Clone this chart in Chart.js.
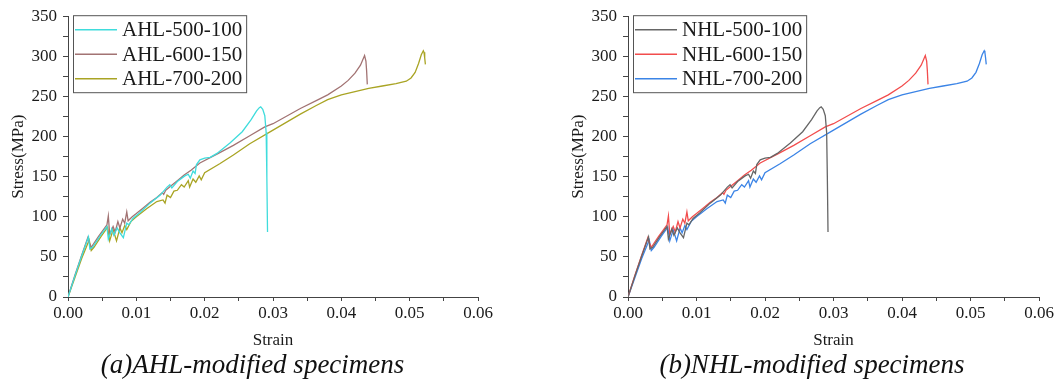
<!DOCTYPE html>
<html><head><meta charset="utf-8">
<script src="https://cdn.jsdelivr.net/npm/chart.js@4"></script>
<style>
html,body{margin:0;padding:0;background:#fff;}
#wrap{position:relative;width:1057px;height:385px;overflow:hidden;background:#fff;}
canvas{position:absolute;top:0;}
.cap{position:absolute;top:351px;font:italic 27px "Liberation Serif","Times New Roman",serif;text-align:center;line-height:27px;color:#111;white-space:nowrap;}
</style></head><body>
<div id="wrap">
<canvas id="c1" width="530" height="360" style="left:0;width:530px;height:360px"></canvas>
<canvas id="c2" width="497" height="360" style="left:560px;width:497px;height:360px"></canvas>
<div class="cap" style="left:0;width:505px">(a)AHL-modified specimens</div>
<div class="cap" style="left:560px;width:504px">(b)NHL-modified specimens</div>
</div>
<script>
// ---- data ----
const s500Strain = [0,0.0010,0.0020,0.0030,0.0032,0.0036,0.0046,0.0057,0.0059,0.0064,0.0067,0.0072,0.0076,0.0081,0.0086,0.0089,0.0095,0.0105,0.0120,0.0135,0.0145,0.0149,0.0152,0.0160,0.0171,0.0176,0.0179,0.0183,0.0186,0.0188,0.0193,0.0200,0.0208,0.0218,0.0237,0.0255,0.0268,0.0276,0.0280,0.0282,0.0285,0.0288,0.0290,0.0291,0.0292];
const s500Stress = [0,26,51,75,60,62,75,88,72,85,77,86,80,74,92,90,98,105,117,127,137,140,136,144,151,153,148,157,154,165,171,173,174,179,192,206,221,232,236,237,234,226,205,150,81];

const s600Strain = [0,0.0010,0.0020,0.0029,0.0031,0.0034,0.0045,0.0057,0.0059,0.0061,0.0066,0.0069,0.0073,0.0076,0.0080,0.0083,0.0086,0.0088,0.0094,0.0100,0.0110,0.0120,0.0130,0.0138,0.0140,0.0143,0.0150,0.0160,0.0170,0.0180,0.0193,0.0218,0.0242,0.0266,0.0288,0.0300,0.0340,0.0364,0.0380,0.0400,0.0410,0.0420,0.0428,0.0434,0.0436,0.0437,0.0438];
const s600Stress = [0,27,52,74,68,62,76,90,101,78,88,81,94,86,97,92,106,95,100,104,111,118,124,130,128,133,138,145,152,158,167,178,189,201,212,216,235,245,252,263,270,279,289,301,294,282,265];

const s700Strain = [0,0.0010,0.0020,0.0031,0.0034,0.0038,0.0048,0.0058,0.0061,0.0066,0.0071,0.0076,0.0079,0.0083,0.0086,0.0092,0.0100,0.0115,0.0130,0.0139,0.0142,0.0145,0.0150,0.0155,0.0160,0.0166,0.0170,0.0176,0.0178,0.0183,0.0187,0.0192,0.0195,0.0200,0.0222,0.0242,0.0266,0.0300,0.0340,0.0364,0.0380,0.0400,0.0420,0.0440,0.0460,0.0480,0.0495,0.0502,0.0508,0.0513,0.0517,0.0520,0.0521,0.0522,0.0523];
const s700Stress = [0,24,48,71,58,62,75,87,70,84,70,86,80,89,84,94,100,110,119,121,117,127,124,132,133,140,137,145,137,147,143,151,146,155,166,177,191,208,228,239,246,252,256,260,263,266,269,273,280,291,302,307,305,298,290];

const ahlLabels = ['AHL-500-100','AHL-600-150','AHL-700-200'];
const nhlLabels = ['NHL-500-100','NHL-600-150','NHL-700-200'];
const ahlColors = ['#3fdcdc','#a27373','#a9a424'];
const nhlColors = ['#666666','#f24d4d','#3b84e6'];
const xTickLabels = ['0.00','0.01','0.02','0.03','0.04','0.05','0.06'];
const yTickLabels = ['0','50','100','150','200','250','300','350'];

// ---- helpers ----
const pts = (xs, ys) => xs.map((x, i) => ({x, y: ys[i]}));
const SERIF = '"Liberation Serif","Times New Roman",serif';

const boxLegend = {
  id: 'boxLegend',
  afterDatasetsDraw(chart) {
    const {ctx} = chart;
    const L = chart.chartArea.left, T = chart.chartArea.top;
    ctx.save();
    ctx.font = '21px ' + SERIF;
    const labels = chart.data.datasets.map(d => d.label);
    const w = Math.max(...labels.map(s => ctx.measureText(s).width));
    const x0 = L + 5, y0 = T - 1, tx = L + 54;
    const bw = tx + w + 4 - x0, bh = 77;
    ctx.fillStyle = '#fff';
    ctx.fillRect(x0, y0, bw, bh);
    ctx.strokeStyle = '#555';
    ctx.lineWidth = 1;
    ctx.strokeRect(x0 + 0.5, y0 + 0.5, bw, bh);
    const rows = [T + 13.5, T + 38, T + 62.5];
    chart.data.datasets.forEach((d, i) => {
      ctx.strokeStyle = d.borderColor;
      ctx.lineWidth = 1.4;
      ctx.beginPath();
      ctx.moveTo(L + 7, rows[i]);
      ctx.lineTo(L + 49, rows[i]);
      ctx.stroke();
      ctx.fillStyle = '#1a1a1a';
      ctx.textBaseline = 'middle';
      ctx.textAlign = 'left';
      ctx.fillText(d.label, tx, rows[i] + 1);
    });
    ctx.restore();
  }
};

function makeChart(id, labels, colors, rightPad) {
  const series = [pts(s500Strain, s500Stress), pts(s600Strain, s600Stress), pts(s700Strain, s700Stress)];
  return new Chart(document.getElementById(id), {
    type: 'line',
    data: {
      datasets: series.map((data, i) => ({
        label: labels[i], data, borderColor: colors[i], backgroundColor: colors[i],
        borderWidth: 1.3, pointRadius: 0, tension: 0, fill: false
      }))
    },
    options: {
      responsive: false, animation: false, devicePixelRatio: 1,
      layout: {padding: {left: 0, top: 14, right: rightPad, bottom: 0}},
      plugins: {legend: {display: false}, tooltip: {enabled: false}},
      scales: {
        x: {
          type: 'linear', min: 0, max: 0.06,
          afterFit: s => { s.height = 63; },
          ticks: {
            stepSize: 0.005, autoSkip: false, maxRotation: 0, padding: 2,
            color: '#1a1a1a', font: {family: SERIF, size: 17},
            callback: v => { const k = Math.round(v * 200); return k % 2 === 0 ? xTickLabels[k / 2] : ''; }
          },
          grid: {display: true, drawOnChartArea: false, drawTicks: true, tickLength: 4, color: '#444', tickColor: '#444'},
          border: {display: true, color: '#444', width: 1},
          title: {display: true, text: 'Strain', color: '#1a1a1a', font: {family: SERIF, size: 17}, padding: {top: 0, bottom: 9}}
        },
        y: {
          type: 'linear', min: 0, max: 350,
          afterFit: s => { s.width = 68; },
          ticks: {
            stepSize: 25, autoSkip: false, padding: 6,
            color: '#1a1a1a', font: {family: SERIF, size: 17},
            callback: v => { const k = Math.round(v / 25); return k % 2 === 0 ? yTickLabels[k / 2] : ''; }
          },
          grid: {display: true, drawOnChartArea: false, drawTicks: true, tickLength: 5, color: '#444', tickColor: '#444'},
          border: {display: true, color: '#444', width: 1},
          title: {display: true, text: 'Stress(MPa)', color: '#1a1a1a', font: {family: SERIF, size: 17}, padding: {top: 8, bottom: 0}}
        }
      }
    },
    plugins: [boxLegend]
  });
}

makeChart('c1', ahlLabels, ahlColors, 52);
makeChart('c2', nhlLabels, nhlColors, 18);
</script>
</body></html>
